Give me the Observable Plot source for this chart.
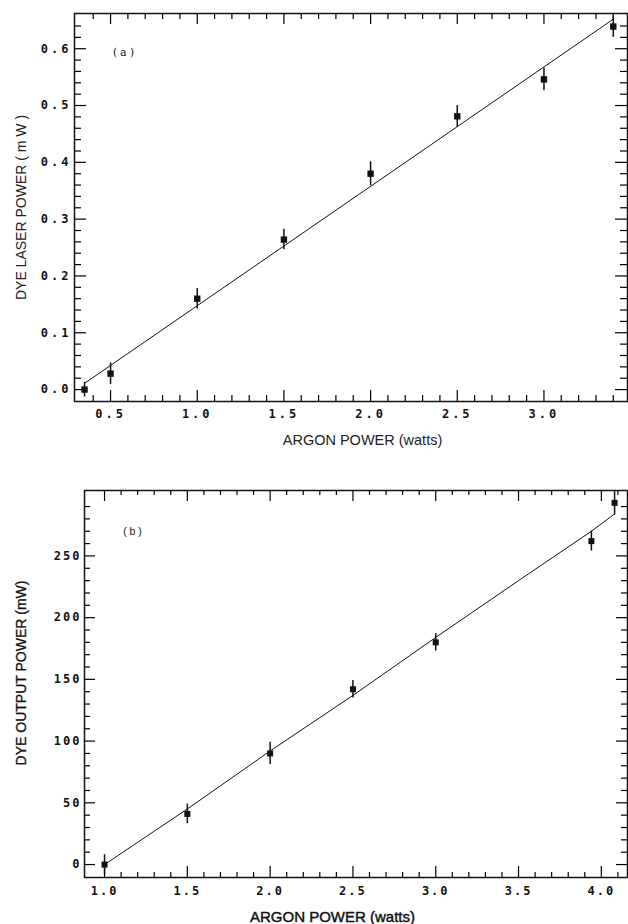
<!DOCTYPE html>
<html>
<head>
<meta charset="utf-8">
<script src="https://cdn.jsdelivr.net/npm/d3@7"></script>
<script src="https://cdn.jsdelivr.net/npm/@observablehq/plot@0.6"></script>
<style>
  html, body { margin: 0; padding: 0; background: #fff; }
  #wrap { position: relative; width: 628px; height: 924px; overflow: hidden; }
  #wrap svg { position: absolute; left: 0; background: #fff; }
  #pa { top: 0; }
  #pb { top: 460px; }
  #pa g[aria-label="x-axis tick label"] text, #pa g[aria-label="y-axis tick label"] text { letter-spacing: 3px; }
  #pb g[aria-label="x-axis tick label"] text, #pb g[aria-label="y-axis tick label"] text { letter-spacing: 2px; }
</style>
</head>
<body>
<div id="wrap"></div>
<script>
// ---------- Panel (a) data ----------
const aArgon = [0.35, 0.5, 1.0, 1.5, 2.0, 2.5, 3.0, 3.4];
const aDye = [0.0, 0.028, 0.160, 0.264, 0.380, 0.481, 0.546, 0.639];
const aErr = [0.013, 0.019, 0.018, 0.018, 0.021, 0.019, 0.020, 0.019];
const aFitX = [0.35, 3.4];
const aFitY = [0.011, 0.652];
const aXTicks = [0.5, 1.0, 1.5, 2.0, 2.5, 3.0];
const aYTicks = [0.0, 0.1, 0.2, 0.3, 0.4, 0.5, 0.6];

// ---------- Panel (b) data ----------
const bArgon = [1.0, 1.5, 2.0, 2.5, 3.0, 3.94, 4.08];
const bDye = [0, 41, 90, 142, 180, 262, 293];
const bErr = [8, 8, 9, 7, 7, 8, 10];
const bFitX = [1.0, 1.5, 2.0, 2.5, 3.0, 3.5, 3.94, 4.08];
const bFitY = [0, 45, 92, 137, 184, 230, 270, 284];
const bXTicks = [1.0, 1.5, 2.0, 2.5, 3.0, 3.5, 4.0];
const bYTicks = [0, 50, 100, 150, 200, 250];

const aPts = aArgon.map((x, i) => ({x, y: aDye[i], e: aErr[i]}));
const aFit = aFitX.map((x, i) => ({x, y: aFitY[i]}));
const bPts = bArgon.map((x, i) => ({x, y: bDye[i], e: bErr[i]}));
const bFit = bFitX.map((x, i) => ({x, y: bFitY[i]}));

function minorTicks(start, stop, step, majors) {
  return d3.range(Math.round((stop - start) / step) + 1)
    .map(i => +(start + i * step).toFixed(4))
    .filter(v => !majors.some(m => Math.abs(m - v) < 1e-6));
}
const aXMinor = minorTicks(0.4, 3.4, 0.1, aXTicks);
const aYMinor = minorTicks(0.02, 0.64, 0.02, aYTicks);
const bXMinor = minorTicks(1.1, 4.1, 0.1, bXTicks);
const bYMinor = minorTicks(10, 290, 10, bYTicks);

function tickMarks(xMaj, xMin, yMaj, yMin, fw, fh, L) {
  return [
    Plot.tickX(xMaj, {x: d => d, insetTop: fh - L.xMaj, strokeWidth: 1.2}),
    Plot.tickX(xMin, {x: d => d, insetTop: fh - L.xMin, strokeWidth: 1.2}),
    Plot.tickX(xMaj, {x: d => d, insetBottom: fh - L.xMaj, strokeWidth: 1.2}),
    Plot.tickX(xMin, {x: d => d, insetBottom: fh - L.xMin, strokeWidth: 1.2}),
    Plot.tickY(yMaj, {y: d => d, insetRight: fw - L.yMaj, strokeWidth: 1.2}),
    Plot.tickY(yMin, {y: d => d, insetRight: fw - L.yMin, strokeWidth: 1.2}),
    Plot.tickY(yMaj, {y: d => d, insetLeft: fw - L.yMaj, strokeWidth: 1.2}),
    Plot.tickY(yMin, {y: d => d, insetLeft: fw - L.yMin, strokeWidth: 1.2})
  ];
}

const tickFont = {fontFamily: "DejaVu Sans Mono", fontWeight: "bold", fontSize: 12, fill: "#111"};

// ---------- Panel (a) ----------
const A = {w: 628, h: 460, ml: 74, mr: 1, mt: 13, mb: 59};
const pa = Plot.plot({
  width: A.w, height: A.h,
  marginLeft: A.ml, marginRight: A.mr, marginTop: A.mt, marginBottom: A.mb,
  x: {domain: [0.292, 3.482]},
  y: {domain: [-0.021, 0.662]},
  marks: [
    Plot.frame({stroke: "#111", strokeWidth: 1.5}),
    ...tickMarks(aXTicks, aXMinor, aYTicks, aYMinor, A.w - A.ml - A.mr, A.h - A.mt - A.mb,
                 {xMaj: 11, xMin: 6, yMaj: 12, yMin: 7}),
    Plot.axisX({anchor: "bottom", ticks: aXTicks, tickSize: 0, tickPadding: 8, label: null,
                tickFormat: d => d.toFixed(1), ...tickFont}),
    Plot.axisY({anchor: "left", ticks: aYTicks, tickSize: 0, tickPadding: 3, label: null,
                tickFormat: d => d.toFixed(1), ...tickFont}),
    Plot.line(aFit, {x: "x", y: "y", stroke: "#111", strokeWidth: 1}),
    Plot.ruleX(aPts, {x: "x", y1: d => d.y - d.e, y2: d => d.y + d.e, stroke: "#111", strokeWidth: 1.5}),
    Plot.dot(aPts, {x: "x", y: "y", symbol: "square", r: 3.6, fill: "#111", stroke: "none"}),
    Plot.text(["( a )"], {frameAnchor: "top-left", dx: 49, dy: 35, textAnchor: "middle",
                          fontFamily: "DejaVu Serif", fontSize: 10.5, fill: "#111", style: "letter-spacing:1.5px"}),
    Plot.text(["ARGON POWER (watts)"], {frameAnchor: "bottom", dx: 11.5, dy: 43, lineAnchor: "bottom", textAnchor: "middle",
                          fontFamily: "Liberation Sans", fontSize: 14.5, fill: "#222", style: "letter-spacing:1.5px"}),
    Plot.text(["DYE LASER POWER ( m W )"], {frameAnchor: "left", dx: -53, rotate: -90, textAnchor: "middle", lineAnchor: "middle",
                          fontFamily: "Liberation Sans", fontSize: 14, fill: "#222"})
  ]
});
pa.id = "pa";

// ---------- Panel (b) ----------
const B = {w: 628, h: 464, ml: 84, mr: 1, mt: 30, mb: 47};
const pb = Plot.plot({
  width: B.w, height: B.h,
  marginLeft: B.ml, marginRight: B.mr, marginTop: B.mt, marginBottom: B.mb,
  x: {domain: [0.879, 4.158]},
  y: {domain: [-10.5, 303]},
  marks: [
    Plot.frame({stroke: "#111", strokeWidth: 1.5}),
    ...tickMarks(bXTicks, bXMinor, bYTicks, bYMinor, B.w - B.ml - B.mr, B.h - B.mt - B.mb,
                 {xMaj: 11, xMin: 5, yMaj: 11, yMin: 6}),
    Plot.axisX({anchor: "bottom", ticks: bXTicks, tickSize: 0, tickPadding: 9, label: null,
                tickFormat: d => d.toFixed(1), ...tickFont}),
    Plot.axisY({anchor: "left", ticks: bYTicks, tickSize: 0, tickPadding: 3, label: null,
                tickFormat: d => String(d), ...tickFont}),
    Plot.line(bFit, {x: "x", y: "y", stroke: "#111", strokeWidth: 1}),
    Plot.ruleX(bPts, {x: "x", y1: d => d.y - d.e, y2: d => d.y + d.e, stroke: "#111", strokeWidth: 1.5}),
    Plot.dot(bPts, {x: "x", y: "y", symbol: "square", r: 3.4, fill: "#111", stroke: "none"}),
    Plot.text(["( b )"], {frameAnchor: "top-left", dx: 48, dy: 37, textAnchor: "middle",
                          fontFamily: "Liberation Sans", fontSize: 10.5, fill: "#111", style: "letter-spacing:1.5px"}),
    Plot.text(["ARGON POWER (watts)"], {frameAnchor: "bottom", dx: -23.5, dy: 44, lineAnchor: "bottom", textAnchor: "middle",
                          fontFamily: "Liberation Sans", fontSize: 15, fill: "#111", stroke: "#111", strokeWidth: 0.45,
                          style: "letter-spacing:1.5px"}),
    Plot.text(["DYE OUTPUT POWER (mW)"], {frameAnchor: "left", dx: -63, dy: -11, rotate: -90, textAnchor: "middle", lineAnchor: "middle",
                          fontFamily: "Liberation Sans", fontSize: 14, fill: "#111", stroke: "#111", strokeWidth: 0.3,
                          style: "letter-spacing:1.5px"})
  ]
});
pb.id = "pb";

const wrap = document.getElementById("wrap");
wrap.appendChild(pa);
wrap.appendChild(pb);
</script>
</body>
</html>
